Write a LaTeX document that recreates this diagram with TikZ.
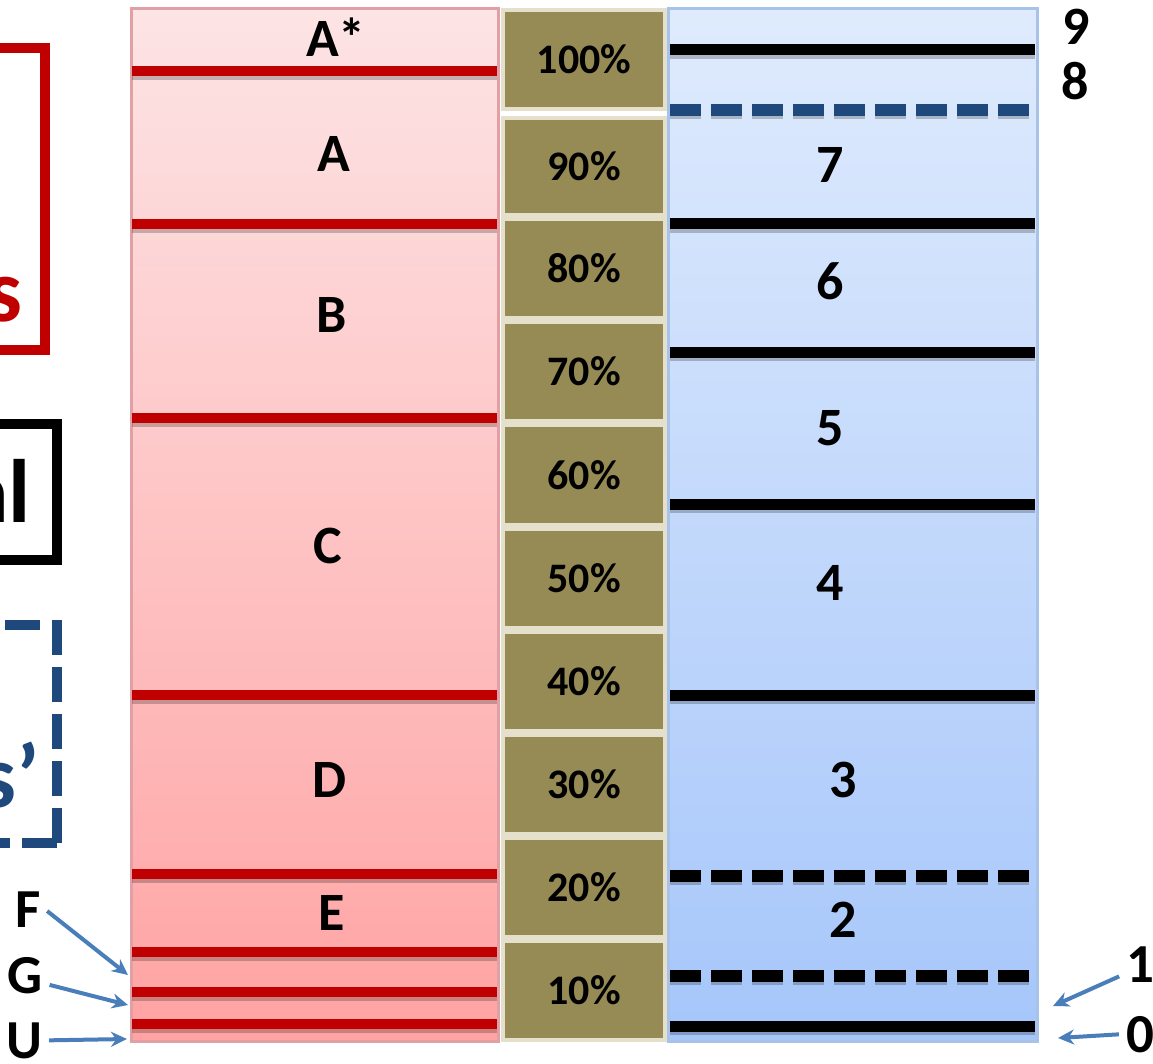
\documentclass[tikz,border=0pt]{standalone}
\usepackage{fontspec}
\setmainfont{Carlito}
\usetikzlibrary{arrows.meta}
\definecolor{redline}{HTML}{C00000}
\definecolor{olivec}{HTML}{968B55}
\definecolor{cellsep}{HTML}{E4E0CC}
\definecolor{dblue}{HTML}{1F497D}
\definecolor{arrblue}{HTML}{4A7EBB}
\definecolor{redtop}{HTML}{FDE4E5}
\definecolor{redbot}{HTML}{FFA3A3}
\definecolor{bluetop}{HTML}{DFEBFD}
\definecolor{bluebot}{HTML}{A6C6FA}
\definecolor{redborder}{HTML}{E0A0A6}
\definecolor{blueborder}{HTML}{A8C3EA}
\begin{document}
\begin{tikzpicture}[x=1pt,y=-1pt,
  lab/.style={font=\fontsize{54}{60}\selectfont\bfseries, inner sep=0pt, anchor=base},
  side/.style={font=\fontsize{55}{60}\selectfont\bfseries, inner sep=4pt, anchor=base},
  big/.style={font=\fontsize{90}{96}\selectfont\bfseries, inner sep=0pt, anchor=base east},
  pct/.style={font=\fontsize{42}{48}\selectfont\bfseries, fill=olivec, draw=cellsep, line width=4pt, minimum width=162pt, inner sep=0pt},
  rline/.style={redline, line width=10.5pt},
  bline/.style={black, line width=11pt},
  dline/.style={black, line width=12pt, dash pattern=on 31pt off 10pt},
  bdline/.style={dblue, line width=12pt, dash pattern=on 31pt off 10pt},
  shad/.style={black, opacity=0.22, line width=6pt},
  arr/.style={arrblue, line width=4pt, -{Stealth[length=16pt,width=15pt]}, shorten <=3pt}
]
\useasboundingbox (0,0) rectangle (1153,1064);
\clip (0,0) rectangle (1153,1064);
\fill[white] (0,0) rectangle (1153,1064);

% left cropped boxes
\draw[redline, line width=10pt] (-40,48) rectangle (45,350);
\node[big, text=redline] (sred) at (23,322) {s};
\draw[black, line width=10pt] (-40,424) rectangle (57,560);
\node[big, text=black] (alblk) at (31,522) {al};
\draw[dblue, line width=10pt, dash pattern=on 35pt off 12pt] (57,843) -- (57,625) -- (-40,625);
\draw[dblue, line width=10pt, dash pattern=on 35pt off 12pt] (57,843) -- (-40,843);
\node[big, text=dblue] (sblue) at (40,807) {s’};

% red column
\shade[top color=redtop, bottom color=redbot] (131,9) rectangle (498,1041);
\draw[redborder, line width=3pt] (131,9) rectangle (498,1041);
\foreach \yy in {71,224,418,695,874,952,992,1024} {
  \draw[shad] (132,\yy+6) -- (497,\yy+6);
  \draw[rline] (132,\yy) -- (497,\yy);
}
\node[lab] (lAs) at (336,57) {A*};
\node[lab] (lA) at (334,172) {A};
\node[lab] (lB) at (332,333) {B};
\node[lab] (lC) at (328,563) {C};
\node[lab] (lD) at (330,797) {D};
\node[lab] (lE) at (332,930) {E};

% olive column
\node[pct, minimum height=99pt] (p100) at (584,59.5) {100\%};
\node[pct, minimum height=97pt] (p90) at (584,166.5) {90\%};
\node[pct, minimum height=99pt] (p80) at (584,268.5) {80\%};
\node[pct, minimum height=99pt] (p70) at (584,371.5) {70\%};
\node[pct, minimum height=100pt] (p60) at (584,475) {60\%};
\node[pct, minimum height=99pt] (p50) at (584,578.5) {50\%};
\node[pct, minimum height=99pt] (p40) at (584,681.5) {40\%};
\node[pct, minimum height=99pt] (p30) at (584,784.5) {30\%};
\node[pct, minimum height=99pt] (p20) at (584,887.5) {20\%};
\node[pct, minimum height=99pt] (p10) at (584,990.5) {10\%};

% blue column
\shade[top color=bluetop, bottom color=bluebot] (668,9) rectangle (1037,1041);
\draw[blueborder, line width=3pt] (668,9) rectangle (1037,1041);
\foreach \yy in {50,224,352,504,695,1026} {
  \draw[shad] (670,\yy+6) -- (1035,\yy+6);
  \draw[bline] (670,\yy) -- (1035,\yy);
}
\foreach \yy in {876,976} {
  \draw[shad, dash pattern=on 31pt off 10pt] (670,\yy+6) -- (1035,\yy+6);
  \draw[dline] (670,\yy) -- (1035,\yy);
}
\draw[shad, dash pattern=on 31pt off 10pt] (670,116) -- (1035,116);
\draw[bdline] (670,110) -- (1035,110);

\node[lab] (b7) at (830,183) {7};
\node[lab] (b6) at (830,300) {6};
\node[lab] (b5) at (830,445) {5};
\node[lab] (b4) at (830,600) {4};
\node[lab] (b3) at (843,797) {3};
\node[lab] (b2) at (843,937) {2};

% right labels
\node[lab] (r9) at (1076,45) {9};
\node[lab] (r8) at (1075,100) {8};
\node[side] (one) at (1140,982) {1};
\node[side] (zero) at (1140,1052) {0};

% left labels
\node[side] (lF) at (28,927) {F};
\node[side] (lG) at (25,993) {G};
\node[side] (lU) at (24,1058) {U};

% arrow targets
\coordinate (fT) at (128,975);
\coordinate (gT) at (128,1005);
\coordinate (uT) at (127,1039);
\coordinate (oneT) at (1053,1006);
\coordinate (zeroT) at (1058,1038);

\draw[arr] (lF.east) -- (fT);
\draw[arr] ([yshift=-9pt]lG.east) -- (gT);
\draw[arr] (lU.east) -- (uT);
\draw[arr] ([yshift=-11pt]one.west) -- (oneT);
\draw[arr] (zero.west) -- (zeroT);
\end{tikzpicture}
\end{document}
